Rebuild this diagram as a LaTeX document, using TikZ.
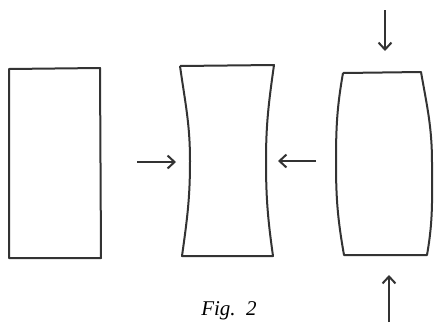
\documentclass[tikz,border=0pt]{standalone}
\usepackage{fontspec}
\setmainfont{Liberation Serif}
\usetikzlibrary{arrows.meta}
\tikzset{block/.style={line width=2pt,draw=black!80,line join=round},
  push/.style={line width=2pt,draw=black!80,-{Straight Barb[length=7pt,width=13pt,line width=2pt]}}}
\begin{document}
\begin{tikzpicture}[x=1pt,y=-1pt]
\useasboundingbox (0,0) rectangle (434,322);
% plain block
\draw[block](9,69)--(100,68)--(101,258)--(9,258)--cycle;
% block pulled in at the sides
\draw[block](180,66)--(274,65)to[out=-98,in=90](266,161)to[out=-90,in=98](273,256)
  --(182,256)to[out=82,in=-90](190,161)to[out=90,in=-82](180,66);
\coordinate (lt) at (137,162);\coordinate (lh) at (176,162);
\coordinate (rt) at (316,161);\coordinate (rh) at (278,161);
\draw[push](lt)--(lh);
\draw[push](rt)--(rh);
% block squeezed from top and bottom
\draw[block](343,73)--(421,72)to[out=-80,in=90](432,163)to[out=-90,in=80](427,255)
  --(344,255)to[out=100,in=-90](336,163)to[out=90,in=-100](343,73);
\coordinate (tt) at (385,10);\coordinate (th) at (385,51);
\coordinate (bt) at (389,322);\coordinate (bh) at (389,275);
\draw[push](tt)--(th);
\draw[push](bt)--(bh);
\node (cap) at (229,311) {\fontsize{21}{24}\selectfont\itshape Fig.\ \ 2};
\end{tikzpicture}
\end{document}
